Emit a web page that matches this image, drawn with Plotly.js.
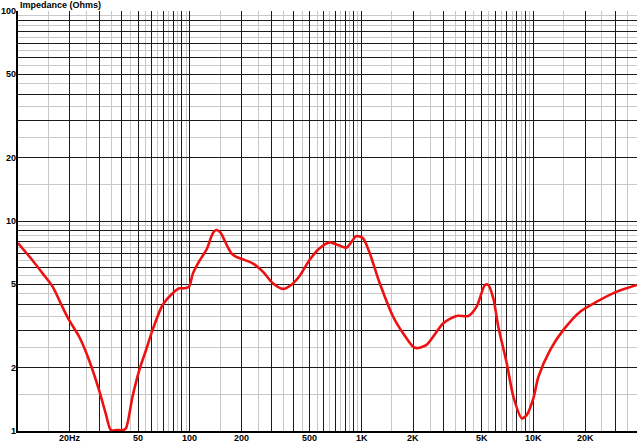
<!DOCTYPE html>
<html>
<head>
<meta charset="utf-8">
<script src="https://cdn.plot.ly/plotly-3.0.1.min.js"></script>
<style>html,body{margin:0;padding:0;background:#fff;}#chart{width:640px;height:442px;}</style>
</head>
<body>
<div id="chart"></div>
<script>
// Frequency (Hz) and impedance (Ohms)
const freq = [10, 10.8, 12.1, 13.9, 15.9, 18.1, 19.8, 22.7, 25.9, 29.6, 32.4, 34.7, 37.5, 40.9, 42.5, 46.4, 50.8, 55.6, 60.7, 69.4, 79.4, 86.9, 92.9, 99, 104, 113, 126, 133, 138, 143, 150, 158, 165, 175, 186, 203, 232, 266, 304, 348, 389, 435, 497, 569, 651, 727, 814, 932, 1018, 1114, 1274, 1524, 1741, 1991, 2086, 2384, 2984, 3565, 4171, 4666, 5213, 5454, 5835, 6237, 6982, 7628, 8535, 9120, 9975, 10670, 12480, 14920, 18670, 23350, 30540, 40000];
const impedance = [7.86, 7.28, 6.52, 5.63, 4.87, 3.91, 3.38, 2.81, 2.18, 1.57, 1.21, 1.01, 1.01, 1.01, 1.03, 1.46, 1.95, 2.43, 3.03, 3.98, 4.53, 4.78, 4.78, 4.87, 5.6, 6.4, 7.4, 8.4, 8.9, 9.06, 8.85, 8.2, 7.6, 7.0, 6.75, 6.57, 6.29, 5.74, 5.05, 4.75, 4.96, 5.47, 6.52, 7.41, 7.91, 7.69, 7.46, 8.48, 8.27, 7.02, 5.05, 3.5, 2.92, 2.52, 2.48, 2.57, 3.26, 3.53, 3.53, 3.91, 4.96, 4.96, 4.28, 3.14, 2.1, 1.46, 1.15, 1.19, 1.43, 1.81, 2.43, 3.03, 3.7, 4.13, 4.61, 4.96];

// Axis tick labels
const xLabelVals = [20, 50, 100, 200, 500, 1000, 2000, 5000, 10000, 20000];
const xLabelText = ["20Hz", "50", "100", "200", "500", "1K", "2K", "5K", "10K", "20K"];
const yLabelVals = [1, 2, 5, 10, 20, 50, 100];
const yLabelText = ["1", "2", "5", "10", "20", "50", "100"];
const titleText = "Impedance (Ohms)";

// Build grid values: major at 1..9 x 10^n, minor at half steps 1.5..9.5 x 10^n
function majors(decStart, decEnd, maxV) {
  const out = [];
  for (let d = decStart; d <= decEnd; d++) for (let m = 1; m <= 9; m++) {
    const v = m * Math.pow(10, d); if (v <= maxV * 1.0001) out.push(v);
  }
  return out;
}
function minors(decStart, decEnd, maxV) {
  const out = [];
  for (let d = decStart; d <= decEnd; d++) for (let m = 1.5; m < 10; m += 1) {
    const v = m * Math.pow(10, d); if (v <= maxV) out.push(v);
  }
  return out;
}

const xMaj = majors(1, 4, 40000);
const xMin = minors(1, 4, 40000);
const yMaj = majors(0, 2, 100);
const yMin = minors(0, 1, 100);

const fontFam = "Liberation Sans, Arial, sans-serif";
const tickFont = {family: fontFam, size: 9, color: "#000", weight: "bold"};

const trace = {
  x: freq, y: impedance, type: "scatter", mode: "lines",
  line: {color: "#ee1111", width: 2.6, shape: "spline", smoothing: 0.7},
  hoverinfo: "skip"
};

// axis labels as annotations placed through the log axes (log10 positions)
const xAnn = xLabelVals.map((v, i) => ({
  text: xLabelText[i], xref: "x", yref: "paper", x: Math.log10(v), y: 0,
  xanchor: "center", yanchor: "top", yshift: 0, showarrow: false,
  font: tickFont
}));
const yAnn = yLabelVals.map((v, i) => ({
  text: yLabelText[i], xref: "paper", yref: "y", x: 0, y: Math.log10(v),
  xanchor: "right", yanchor: "middle", xshift: 0, showarrow: false,
  font: tickFont
}));

const layout = {
  width: 640, height: 442,
  margin: {l: 18, r: 3, t: 11, b: 11, pad: 0},
  paper_bgcolor: "#fff", plot_bgcolor: "#fff",
  showlegend: false,
  xaxis: {
    type: "log", range: [1, Math.log10(40000)], fixedrange: true,
    tickmode: "array", tickvals: xMaj, showticklabels: false,
    showgrid: true, gridcolor: "#1a1a1a", gridwidth: 1,
    minor: {tickmode: "array", tickvals: xMin, showgrid: true, gridcolor: "#c8c8c8", gridwidth: 1, ticks: ""},
    ticks: "", ticklen: 0, showline: true, linecolor: "#000", linewidth: 2,
    zeroline: false
  },
  yaxis: {
    type: "log", range: [0, 2], fixedrange: true,
    tickmode: "array", tickvals: yMaj, showticklabels: false,
    showgrid: true, gridcolor: "#1a1a1a", gridwidth: 1,
    minor: {tickmode: "array", tickvals: yMin, showgrid: true, gridcolor: "#c8c8c8", gridwidth: 1, ticks: ""},
    ticks: "", ticklen: 0, showline: true, linecolor: "#000", linewidth: 2,
    zeroline: false
  },
  annotations: xAnn.concat(yAnn, [{
    text: titleText, xref: "paper", yref: "paper", x: 0, y: 1,
    xanchor: "left", yanchor: "bottom", xshift: 0, yshift: -1, showarrow: false,
    font: {family: fontFam, size: 9, color: "#000", weight: "bold"}
  }])
};

Plotly.newPlot("chart", [trace], layout, {staticPlot: true, displayModeBar: false});
</script>
</body>
</html>
